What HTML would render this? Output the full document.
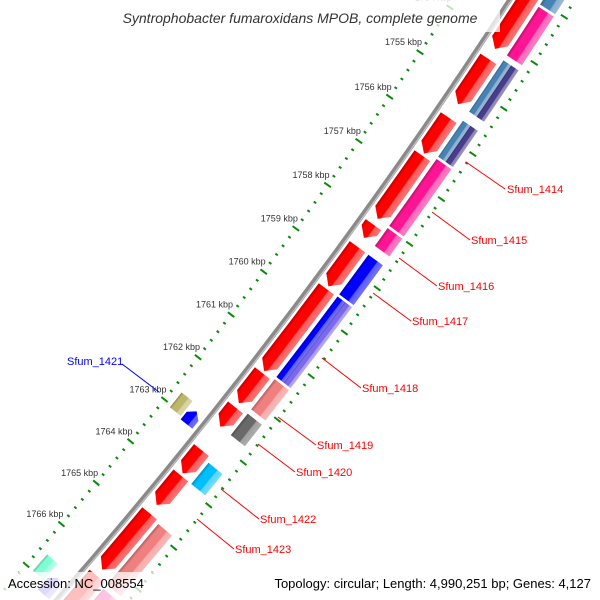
<!DOCTYPE html>
<html><head><meta charset="utf-8"><style>
html,body{margin:0;padding:0;background:#fff;width:600px;height:600px;overflow:hidden;}
svg{display:block;font-family:"Liberation Sans",sans-serif;overflow:hidden;}
</style></head><body>
<svg id="map" width="600" height="600" viewBox="0 0 600 600" xmlns="http://www.w3.org/2000/svg">
<defs id="defs"></defs>
<g id="rulers"></g>
<g id="backbone"></g>
<g id="features"></g>
<g id="labels"></g>
<rect x="100" y="0" width="400" height="32" fill="#fff" fill-opacity="0.75"/>
<text x="300" y="23" text-anchor="middle" font-size="14" font-style="italic" fill="#333">Syntrophobacter fumaroxidans MPOB, complete genome</text>
<rect x="0" y="572" width="600" height="28" fill="#fff" fill-opacity="0.75"/>
<text x="8" y="588" font-size="13" fill="#000">Accession: NC_008554</text>
<text x="591" y="588" text-anchor="end" font-size="13" fill="#000">Topology: circular; Length: 4,990,251 bp; Genes: 4,127</text>
</svg>
<script>
// ---- data (kbp) ----
const tickKbp = [1753,1754,1755,1756,1757,1758,1759,1760,1761,1762,1763,1764,1765,1766];
const tickLabels = ["1753 kbp","1754 kbp","1755 kbp","1756 kbp","1757 kbp","1758 kbp","1759 kbp","1760 kbp","1761 kbp","1762 kbp","1763 kbp","1764 kbp","1765 kbp","1766 kbp"];
const fwdStart = [1752.5,1754.4,1755.7,1756.55,1758.1,1758.6,1759.56,1761.5,1762.3,1763.3,1763.9,1764.8,1766.3];
const fwdEnd   = [1754.18,1755.4,1756.5,1757.97,1758.4,1759.5,1761.45,1762.2,1762.75,1763.85,1764.6,1766.15,1767.6];
const cogStart = [1752.4,1753.1,1754.27,1755.6,1756.45,1758.0,1758.6,1759.55,1761.45,1762.25,1763.4,1764.85,1766.4];
const cogEnd   = [1753.05,1754.16,1755.4,1756.4,1757.95,1758.4,1759.5,1761.4,1762.15,1762.75,1763.9,1766.3,1767.5];
const cogColors = [["#4682b4"],["#ff1493"],["#4682b4","#483d8b"],["#4682b4","#483d8b"],["#ff1493"],["#ff1493"],["#0000ff"],["#0000ff","#7b68ee"],["#f08080"],["#696969"],["#00bfff"],["#f08080"],["#ff1493"]];
const revStart = [1762.8,1766.8];
const revEnd   = [1763.1,1767.2];
const revColors = ["#0000ff","#7b68ee"];
const revCogStart = [1762.7,1766.6];
const revCogEnd   = [1763.05,1767.0];
const revCogColors = ["#bdb76b","#7fffd4"];

// ---- geometry ----
const CX=-3895, CY=-2855, R=5249;
const NS="http://www.w3.org/2000/svg";
function ang(k){return (33.97+(k-1755)*0.5936)*Math.PI/180;}
function P(r,k){const t=ang(k);return [CX+r*Math.cos(t),CY+r*Math.sin(t)];}
function f(p){return p[0].toFixed(2)+","+p[1].toFixed(2);}
function mk(tag,parent,attrs){const e=document.createElementNS(NS,tag);for(const a in attrs)e.setAttribute(a,attrs[a]);parent.appendChild(e);return e;}
function shade(hex,amt){let n=parseInt(hex.slice(1),16);let r=n>>16,g=(n>>8)&255,b=n&255;
  if(amt>0){r+=(255-r)*amt;g+=(255-g)*amt;b+=(255-b)*amt;}else{r*=1+amt;g*=1+amt;b*=1+amt;}
  return "rgb("+Math.round(r)+","+Math.round(g)+","+Math.round(b)+")";}
const defs=document.getElementById("defs");
let gid=0;
function grad(color,r1,r2,km){
  const id="g"+(gid++);const a=P(r1,km),b=P(r2,km);
  const lg=mk("linearGradient",defs,{id:id,gradientUnits:"userSpaceOnUse",x1:a[0],y1:a[1],x2:b[0],y2:b[1]});
  [[0,shade(color,-0.25)],[0.18,color],[0.6,color],[0.66,shade(color,0.35)],[1,shade(color,0.45)]].forEach(s=>mk("stop",lg,{offset:s[0],"stop-color":s[1]}));
  return "url(#"+id+")";}
function bandPath(k1,k2,r1,r2){return "M"+f(P(r1,k1))+" A"+r1+" "+r1+" 0 0 1 "+f(P(r1,k2))+" L"+f(P(r2,k2))+" A"+r2+" "+r2+" 0 0 0 "+f(P(r2,k1))+" Z";}
function arrowF(k1,k2,r1,r2){const h=0.17,kh=Math.max(k1,k2-h),rm=(r1+r2)/2;
  return "M"+f(P(r1,k1))+" A"+r1+" "+r1+" 0 0 1 "+f(P(r1,kh))+" L"+f(P(rm,k2))+" L"+f(P(r2,kh))+" A"+r2+" "+r2+" 0 0 0 "+f(P(r2,k1))+" Z";}
function arrowR(k1,k2,r1,r2){const h=0.12,kh=Math.min(k2,k1+h),rm=(r1+r2)/2;
  return "M"+f(P(rm,k1))+" L"+f(P(r1,kh))+" A"+r1+" "+r1+" 0 0 1 "+f(P(r1,k2))+" L"+f(P(r2,k2))+" A"+r2+" "+r2+" 0 0 0 "+f(P(r2,kh))+" Z";}

// ---- rulers ----
const rul=document.getElementById("rulers");
const RIN=5203, ROUT=5304;
[RIN,ROUT].forEach((rr,ri)=>{
  for(let i=0;i<=80;i++){
    const k=1752+i*0.2;const major=Math.abs(k-Math.round(k))<1e-6;
    const len=major?8:3;
    const a=P(rr-len/2,k),b=P(rr+len/2,k);
    const l=mk("line",rul,{x1:a[0],y1:a[1],x2:b[0],y2:b[1],stroke:"#0a8a0a","stroke-width":2});
    
    
  }
});
tickKbp.forEach((k,i)=>{
  const p=P(RIN,k);
  const t=mk("text",rul,{x:p[0]+2,y:p[1]-7,"text-anchor":"end","font-size":9,fill:"#333"});
  t.textContent=tickLabels[i];
  
  
});

// ---- backbone ----
const bb=document.getElementById("backbone");
function arcD(r,k1,k2){return "M"+f(P(r,k1))+" A"+r+" "+r+" 0 0 1 "+f(P(r,k2));}
const b1=mk("path",bb,{d:arcD(R,1751,1768.5),fill:"none",stroke:"#8a8a8a","stroke-width":5});


const b2=mk("path",bb,{d:arcD(R+1.5,1751,1768.5),fill:"none",stroke:"#c4c4c4","stroke-width":1.2});



// ---- features ----
const fg=document.getElementById("features");
const F1=R+5,F2=R+24,C1=R+28,C2=R+46,V1=R-21,V2=R-6,VC1=R-37,VC2=R-23;
fwdStart.forEach((s,i)=>{
  const e=fwdEnd[i];
  const p=mk("path",fg,{d:arrowF(s,e,F1,F2),fill:grad("#ff0000",F1,F2,(s+e)/2)});
  
  
});
cogStart.forEach((s,i)=>{
  const e=cogEnd[i],cols=cogColors[i],n=cols.length,w=(C2-C1)/n;
  cols.forEach((c,j)=>{
    const r1=C1+j*w,r2=C1+(j+1)*w;
    const p=mk("path",fg,{d:bandPath(s,e,r1,r2),fill:grad(c,r1,r2,(s+e)/2)});
    
    
  });
});
revStart.forEach((s,i)=>{
  const e=revEnd[i];
  const p=mk("path",fg,{d:arrowR(s,e,V1,V2),fill:grad(revColors[i],V1,V2,(s+e)/2)});
  
  
});
revCogStart.forEach((s,i)=>{
  const e=revCogEnd[i];
  const p=mk("path",fg,{d:bandPath(s,e,VC1,VC2),fill:grad(revCogColors[i],VC1,VC2,(s+e)/2)});
  
  
});

// ---- gene labels ----
const labelText=["Sfum_1414","Sfum_1415","Sfum_1416","Sfum_1417","Sfum_1418","Sfum_1419","Sfum_1420","Sfum_1422","Sfum_1423","Sfum_1421"];
const lg=document.getElementById("labels");
const L=[[466,162,505,189,507,193],[432,212,470,240,471,244],[399,258,437,286,438,290],[373,293,411,321,412,325],[322,358,361,388,362,392],[278,417,316,445,317,449],[258,444,295,472,296,476],[221,489,259,519,260,523],[197,519,234,549,235,553]];
L.forEach((q,i)=>{
  const ln=mk("line",lg,{x1:q[0],y1:q[1],x2:q[2],y2:q[3],stroke:"#ff0000","stroke-width":1});
  
  
  const t=mk("text",lg,{x:q[4],y:q[5],"font-size":11,fill:"#ff0000"});
  t.textContent=labelText[i];
  
  
});
const bl=mk("line",lg,{x1:122,y1:364,x2:159,y2:392,stroke:"#0000ff","stroke-width":1});


const bt=mk("text",lg,{x:67,y:365,"font-size":11,fill:"#0000ff"});
bt.textContent=labelText[9];


</script>
</body></html>
